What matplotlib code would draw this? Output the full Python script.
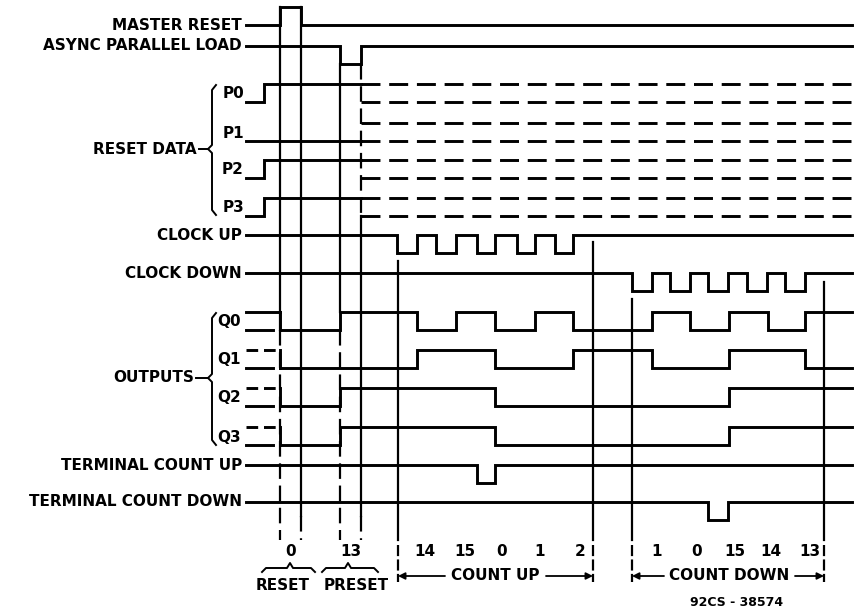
import matplotlib
matplotlib.use("Agg")
import matplotlib.pyplot as plt

# ---- data (time axis in drawing units, left -> right) ----
t_begin, t_end = 246, 852
mr_edges = [280, 301]             # master reset high pulse
apl_edges = [340, 361]            # async parallel load low pulse
p_rise = 264                      # preset data settles
preset_bits = [1, 0, 1, 1]        # P0..P3  (13)
clk_up_fall = [397, 436, 477, 517, 555]
clk_up_rise = [417, 456, 495, 535, 573]
clk_dn_fall = [632, 670, 708, 747, 785]
clk_dn_rise = [652, 690, 728, 767, 805]
count_t = [280, 340, 417, 456, 495, 535, 573, 652, 690, 729, 768, 805]
counts = [0, 13, 14, 15, 0, 1, 2, 1, 0, 15, 14, 13]
tcu_low = [477, 495]
tcd_low = [708, 728]

count_up_lbl = ["14", "15", "0", "1", "2"]
count_up_x = [425, 465, 502, 540, 580]
count_dn_lbl = ["1", "0", "15", "14", "13"]
count_dn_x = [657, 697, 735, 771, 810]
phase_marks = [398, 593, 632, 824]   # count up start/end, count down start/end

# ---- layout ----
AMP = 18
row = dict(MR=7, APL=46, P0=84, P1=123, P2=160, P3=198, CU=235, CD=273,
           Q0=312, Q1=350, Q2=388, Q3=427, TCU=465, TCD=502)
LW = 2.1
VLW = 1.6
FS = 11
font = dict(family="DejaVu Sans", weight="bold", fontsize=FS, color="black")

fig = plt.figure(figsize=(8.56, 6.15), dpi=100)
ax = fig.add_axes([0, 0, 1, 1])
ax.set_xlim(0, 856)
ax.set_ylim(615, 0)
ax.axis("off")


def wave(times, levels, y_hi, t0=t_begin, t1=t_end, **kw):
    xs = [t0] + list(times) + [t1]
    ys = [y_hi + AMP * (1 - v) for v in levels]
    ys = ys + [ys[-1]]
    kw.setdefault("lw", LW)
    ax.step(xs, ys, where="post", color="black", solid_joinstyle="miter", **kw)


def alternate(falls, rises):
    times = []
    for f, r in zip(falls, rises):
        times += [f, r]
    levels = [1] + [0, 1] * len(falls)
    return times, levels


# master reset / async load
wave(mr_edges, [0, 1, 0], row["MR"])
wave(apl_edges, [1, 0, 1], row["APL"])

# preset data inputs
for i, b in enumerate(preset_bits):
    y = row["P%d" % i]
    if b:
        wave([p_rise], [0, 1], y, t1=apl_edges[1])
    else:
        wave([], [0], y, t1=apl_edges[1])
    for lvl in (y, y + AMP):
        ax.plot([apl_edges[1], t_end], [lvl, lvl], color="black", lw=LW,
                dashes=(6.5, 3))

# clocks
t, l = alternate(clk_up_fall, clk_up_rise)
wave(t, l, row["CU"])
t, l = alternate(clk_dn_fall, clk_dn_rise)
wave(t, l, row["CD"])

# outputs from the count sequence
for i in range(4):
    y = row["Q%d" % i]
    lv = [(c >> i) & 1 for c in counts]
    wave(count_t[1:], lv, y, t0=count_t[0])
    ax.plot([count_t[0], count_t[0]], [y, y + AMP], color="black", lw=LW)
    if i == 0:
        ax.plot([t_begin, count_t[0]], [y, y], color="black", lw=LW)
    else:
        ax.plot([t_begin, count_t[0]], [y, y], color="black", lw=LW,
                dashes=(4, 2))
    ax.plot([t_begin, count_t[0] - 7], [y + AMP, y + AMP], color="black",
            lw=LW)

# terminal counts
wave(tcu_low, [1, 0, 1], row["TCU"])
wave(tcd_low, [1, 0, 1], row["TCD"])

# ---- vertical timing marks ----
def vline(x, y0, y1, dashed=False):
    kw = dict(color="black", lw=VLW)
    if dashed:
        kw["dashes"] = (7, 3)
    ax.plot([x, x], [y0, y1], **kw)

bot = 540
vline(mr_edges[0], row["MR"], row["Q0"] + AMP)
vline(mr_edges[0], row["Q0"] + AMP, bot, dashed=True)
vline(mr_edges[1], row["MR"], row["TCD"] + AMP - 4)
vline(mr_edges[1], row["TCD"] + AMP - 4, bot, dashed=True)
vline(apl_edges[0], row["APL"] + AMP, row["Q0"])
vline(apl_edges[0], row["Q0"] + AMP, bot, dashed=True)
vline(apl_edges[1], row["APL"] + AMP, row["P3"] + AMP, dashed=True)
vline(apl_edges[1], row["P3"] + AMP, row["TCD"] + AMP - 4)
vline(apl_edges[1], row["TCD"] + AMP - 4, bot, dashed=True)
vline(phase_marks[0], row["CU"] + AMP + 8, bot)
vline(phase_marks[1], row["CU"] + 7, bot)
vline(phase_marks[2], row["CD"] + AMP + 8, bot)
vline(phase_marks[3], row["CD"] + 9, bot)

# ---- row labels ----
def label(txt, x, y, **kw):
    ax.text(x, y, txt, ha="right", va="center", **font, **kw)

label("MASTER RESET", 242, row["MR"] + AMP)
label("ASYNC PARALLEL LOAD", 242, row["APL"])
label("CLOCK UP", 242, row["CU"])
label("CLOCK DOWN", 242, row["CD"])
label("TERMINAL COUNT UP", 242, row["TCU"])
label("TERMINAL COUNT DOWN", 242, row["TCD"])
for i in range(4):
    label("P%d" % i, 244, row["P%d" % i] + 10)
    label("Q%d" % i, 241, row["Q%d" % i] + 10)
label("RESET DATA", 197, 149)
label("OUTPUTS", 194, 378)

for (top, mid, bottom), txt_end in (((85, 149, 215), 199), ((313, 378, 445), 196)):
    ax.plot([216, 212, 212, 208, 212, 212, 216],
            [top, top + 5, mid - 4, mid, mid + 4, bottom - 5, bottom],
            color="black", lw=1.4)
    ax.plot([txt_end, 208], [mid, mid], color="black", lw=1.4)

# ---- bottom annotations ----
ycnt = 552
ax.text((mr_edges[0] + mr_edges[1]) / 2, ycnt, str(counts[0]), ha="center",
        va="center", **font)
ax.text((apl_edges[0] + apl_edges[1]) / 2, ycnt, str(counts[1]), ha="center",
        va="center", **font)
for s, x in zip(count_up_lbl, count_up_x):
    ax.text(x, ycnt, s, ha="center", va="center", **font)
for s, x in zip(count_dn_lbl, count_dn_x):
    ax.text(x, ycnt, s, ha="center", va="center", **font)

# small braces under reset / preset
for x0, xm, x1 in ((262, 290, 315), (322, 348, 378)):
    ax.plot([x0, x0 + 4, xm - 3, xm, xm + 3, x1 - 4, x1],
            [572, 568, 568, 563, 568, 568, 572], color="black", lw=1.4)
ax.text(283, 585, "RESET", ha="center", va="center", **font)
ax.text(356, 585, "PRESET", ha="center", va="center", **font)

# count up / down spans
yarr = 576
for (xa, xb), txt, (ta, tb) in (((phase_marks[0], phase_marks[1]), "COUNT UP", (445, 546)),
                                ((phase_marks[2], phase_marks[3]), "COUNT DOWN", (664, 795))):
    for xv in (xa, xb):
        ax.plot([xv, xv], [545, 582], color="black", lw=VLW, dashes=(5, 1.5))
    ax.annotate("", xy=(xa, yarr), xytext=(ta, yarr),
                arrowprops=dict(arrowstyle="-|>", lw=1.3, color="black",
                                shrinkA=0, shrinkB=0, mutation_scale=10))
    ax.annotate("", xy=(xb, yarr), xytext=(tb, yarr),
                arrowprops=dict(arrowstyle="-|>", lw=1.3, color="black",
                                shrinkA=0, shrinkB=0, mutation_scale=10))
    ax.text((ta + tb) / 2, yarr, txt, ha="center", va="center", **font)

ax.text(737, 603, "92CS - 38574", ha="center", va="center",
        family="DejaVu Sans", weight="bold", fontsize=9)

fig.savefig("out.png", dpi=100, facecolor="white")
